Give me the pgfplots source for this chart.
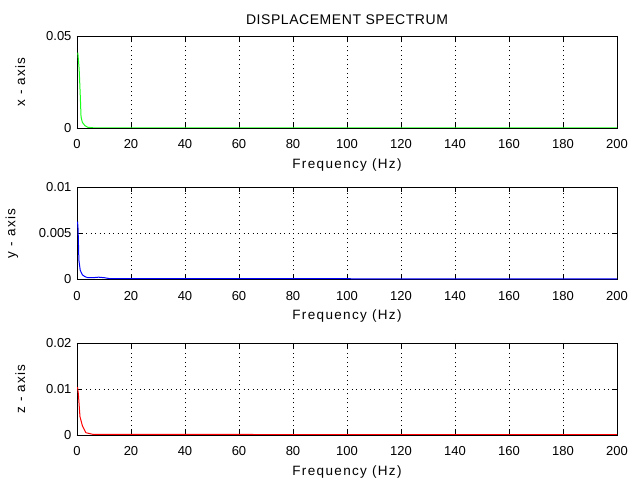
\documentclass[border=0pt]{standalone}
\usepackage{pgfplots}
\pgfplotsset{compat=1.18}
\usepackage{fontspec}
\setmainfont{Liberation Sans}
\newfontfamily\labfont[LetterSpace=10]{Liberation Sans}
\newfontfamily\titfont[LetterSpace=4]{Liberation Sans}
\begin{document}
\begin{tikzpicture}
\path (0pt,0pt) rectangle (633pt,481pt);
\pgfplotsset{
  spec/.style={
    scale only axis, width=540pt, height=92pt,
    anchor=south west,
    xmin=0, xmax=200, ymin=0,
    xtick={0,20,...,200},
    grid=major, major grid style={black, dash pattern=on 1pt off 3.5pt, line width=0.7pt},
    axis line style={line width=0.8pt},
    tick align=inside, major tick length=5pt,
    tick style={black, line width=0.7pt},
    scaled y ticks=false,
    /pgf/number format/assume math mode=true,
    ticklabel style={font=\fontsize{13}{14}\selectfont},
    xticklabel style={yshift=-8pt},
    yticklabel style={xshift=-2pt},
    label style={font=\labfont\fontsize{13.5}{14}\selectfont},
    xlabel={Frequency (Hz)},
    xlabel style={yshift=-3pt},
    ylabel style={yshift=14pt},
    every axis plot/.append style={line width=1pt},
  }
}
\begin{axis}[spec, at={(77pt,353pt)}, ymax=0.05,
  ytick={0,0.05}, yticklabels={0,0.05}, ylabel={x - axis},
  title={DISPLACEMENT SPECTRUM},
  title style={font=\titfont\fontsize{14}{15}\selectfont, yshift=2pt}]
\addplot[color={rgb,1:red,0.1;green,1;blue,0.1}] coordinates {
 (0.3,0.041) (0.8,0.032) (1.2,0.018) (1.5,0.006) (2,0.003) (3,0.0012)
 (4,0.0004) (6,0.00012) (10,0.00006) (200,0.00006)};
\end{axis}
\begin{axis}[spec, at={(77pt,201.5pt)}, ymax=0.01,
  ytick={0,0.005,0.01}, yticklabels={0,0.005,0.01}, ylabel={y - axis}]
\addplot[color=blue] coordinates {
 (0.2,0.0063) (0.4,0.0055) (0.7,0.0021) (1.2,0.001) (2,0.0005) (3,0.0003)
 (4,0.0002) (6,0.0002) (8,0.00025) (10,0.0002) (12,0.0001) (200,0.00006)};
\end{axis}
\begin{axis}[spec, at={(77pt,46pt)}, ymax=0.02,
  ytick={0,0.01,0.02}, yticklabels={0,0.01,0.02}, ylabel={z - axis}]
\addplot[color=red] coordinates {
 (0.2,0.0104) (0.5,0.009) (1.1,0.004) (2,0.002) (3.3,0.0005) (6,0.00012)
 (200,0.00008)};
\end{axis}
\end{tikzpicture}
\end{document}
